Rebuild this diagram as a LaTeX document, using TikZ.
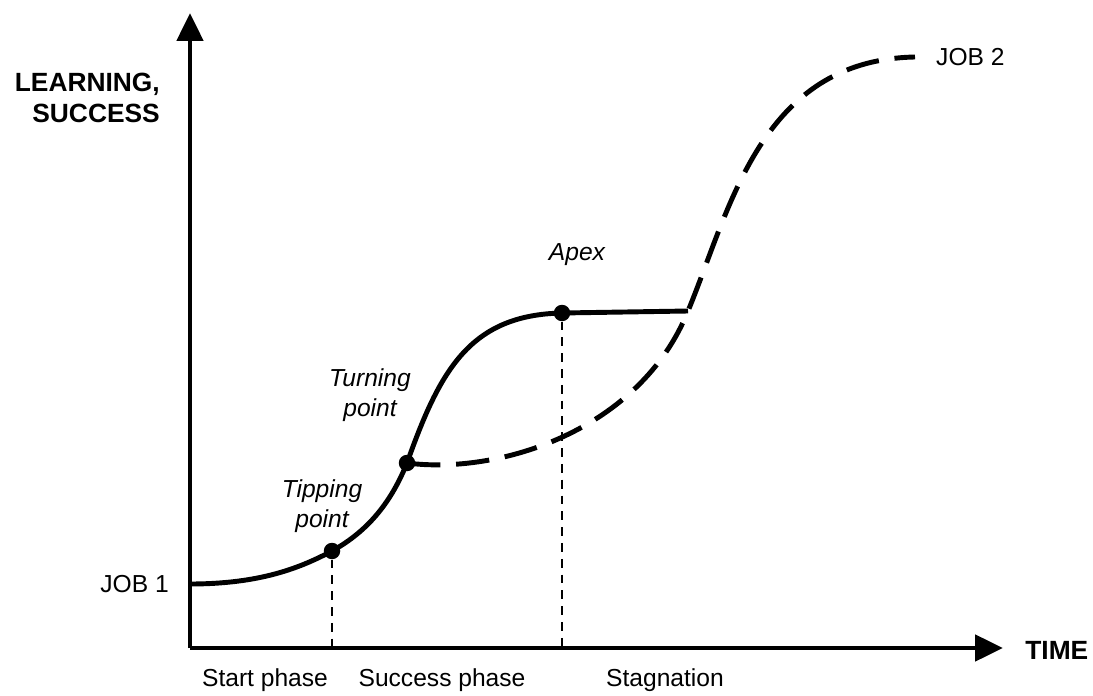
\documentclass[tikz,border=0pt]{standalone}
\usepackage{fontspec}
\setmainfont{Liberation Sans}
\usetikzlibrary{arrows.meta}

\begin{document}
\begin{tikzpicture}[x=0.02cm, y=-0.02cm,
						% Define styles for the pieces of the chart
						axis/.style={line width=2.8pt, -{Triangle[length=0.56cm, width=0.52cm]}},
						job one/.style={line width=2.8pt},
						job two/.style={line width=2.8pt, dash pattern=on 19pt off 9pt},
						guide/.style={line width=1pt, dash pattern=on 5pt off 4pt},
						dot/.style={circle, fill=black, inner sep=0pt, minimum size=0.33cm},
						axis label/.style={font=\bfseries\fontsize{15}{18}\selectfont},
						job label/.style={font=\fontsize{14}{17}\selectfont},
						point label/.style={font=\itshape\fontsize{14}{17}\selectfont, align=center},
						phase label/.style={font=\fontsize{14}{17}\selectfont}
						]
						\useasboundingbox (0,0) rectangle (1093,696);
						
						% Define and place the axes
						\coordinate (O) at (190,648);
						\coordinate (Ytop) at (190,13);
						\coordinate (Xend) at (1003,648);
						\draw[axis] (O) -- (Ytop);
						\draw[axis] (O) -- (Xend);
						
						% Points on the curves
						\coordinate (start) at (190,584);
						\node[dot] (tipping) at (332,551) {};
						\node[dot] (turning) at (407,463) {};
						\node[dot] (apex) at (562,313) {};
						\coordinate (plateau) at (688,311);
						\coordinate (top) at (915,57);
						\coordinate (tippingfoot) at (332,648);
						\coordinate (apexfoot) at (562,648);
						
						% --- Draw the curves ---
						\draw[job one] (start) .. controls (260,584) and (300,568) .. (tipping.center)
							.. controls (370,530) and (392,500) .. (turning.center)
							.. controls (440,370) and (470,315) .. (apex.center) -- (plateau);
						\draw[job two] (turning.center) .. controls (500,475) and (640,430) .. (plateau)
							.. controls (730,210) and (760,60) .. (top);
						\draw[guide] (tipping) -- (tippingfoot);
						\draw[guide] (apex) -- (apexfoot);
						
						% --- Labels ---
						\node[axis label, align=right, anchor=east] (ylabel) at (166,98) {LEARNING,\\SUCCESS};
						\node[axis label, anchor=west, inner sep=0pt] (xlabel) at (1025,650) {TIME};
						\node[job label, anchor=east] (jobone) at (175,584) {JOB 1};
						\node[job label, anchor=west] (jobtwo) at (930,57) {JOB 2};
						\node[point label] (tippinglabel) at (322,506) {Tipping\\point};
						\node[point label] (turninglabel) at (370,395) {Turning\\point};
						\node[point label] (apexlabel) at (577,255) {Apex};
						\node[phase label] (startphase) at (265,680) {Start phase};
						\node[phase label] (successphase) at (442,680) {Success phase};
						\node[phase label] (stagnation) at (665,680) {Stagnation};
					\end{tikzpicture}
\end{document}
